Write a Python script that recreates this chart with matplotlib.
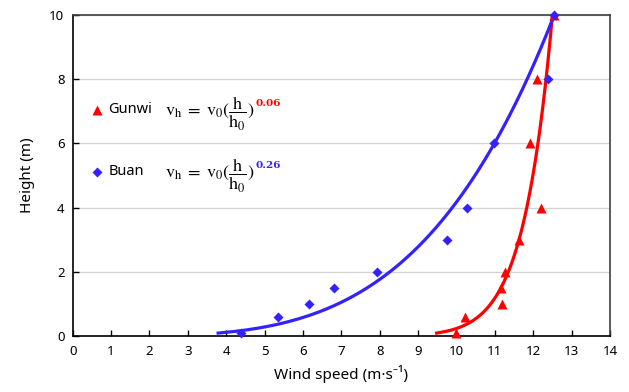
import numpy as np
import matplotlib
matplotlib.use('Agg')
import matplotlib.pyplot as plt

plt.rcParams['font.family'] = ['Noto Sans', 'DejaVu Sans']
plt.rcParams['mathtext.fontset'] = 'stix'

# measured wind profiles
gunwi_speed = [10.0, 10.22, 11.18, 11.15, 11.26, 11.64, 12.2, 11.92, 12.1, 12.54]
gunwi_height = [0.1, 0.6, 1.0, 1.5, 2.0, 3.0, 4.0, 6.0, 8.0, 10.0]
buan_speed = [4.39, 5.34, 6.16, 6.82, 7.92, 9.76, 10.28, 10.98, 12.39, 12.53]
buan_height = [0.1, 0.6, 1.0, 1.5, 2.0, 3.0, 4.0, 6.0, 8.0, 10.0]

# power-law fits v_h = v0 (h/h0)^alpha, reference at h0 = 10 m
gunwi_alpha = 0.06
buan_alpha = 0.26
gunwi_v0 = 12.5
buan_v0 = 12.55
h0 = 10.0

red = '#FF0000'
blue = '#3322FF'

fig = plt.figure(figsize=(6.29, 3.92), dpi=100)
ax = fig.add_axes([0.1156, 0.1421, 0.8542, 0.8204])

h = np.linspace(0.1, 10, 200)
ax.plot(gunwi_v0 * (h / h0) ** gunwi_alpha, h, color=red, lw=2.3, zorder=3)
ax.plot(buan_v0 * (h / h0) ** buan_alpha, h, color=blue, lw=2.3, zorder=3)
ax.plot(gunwi_speed, gunwi_height, '^', color=red, ms=7, mec='none', zorder=4, clip_on=False)
ax.plot(buan_speed, buan_height, 'D', color=blue, ms=5.5, mec='none', zorder=4, clip_on=False)

ax.set_xlim(0, 14)
ax.set_ylim(0, 10)
ax.set_xticks(range(0, 15))
ax.set_yticks(range(0, 11, 2))
ax.tick_params(direction='in', length=4, width=1, labelsize=9.5, pad=6)
ax.yaxis.grid(True, color='#D4D4D4', lw=1)
ax.set_axisbelow(True)
for s in ['left', 'bottom']:
    ax.spines[s].set_linewidth(1.2)
    ax.spines[s].set_color('black')
for s in ['top', 'right']:
    ax.spines[s].set_linewidth(1.2)
    ax.spines[s].set_color('#404040')

ax.set_xlabel('Wind speed (m·s⁻¹)', fontsize=11, labelpad=5)
ax.set_ylabel('Height (m)', fontsize=11, labelpad=10)

# in-plot legend with fitted equations
formula = r'$\mathrm{v_h}\;=\;\mathrm{v_0}(\dfrac{\mathrm{h}}{\mathrm{h_0}})$'
rows = [('Gunwi', '^', 7, red, gunwi_alpha, 0.704),
        ('Buan', 'D', 5.5, blue, buan_alpha, 0.511)]
for name, mk, ms, col, alpha, yf in rows:
    ax.plot([0.045], [yf], mk, color=col, ms=ms, mec='none',
            transform=ax.transAxes, clip_on=False)
    ax.text(0.066, yf, name, transform=ax.transAxes, fontsize=10.5,
            va='center', ha='left')
    t = ax.text(0.172, yf - 0.012, formula, transform=ax.transAxes, fontsize=13,
                va='center', ha='left')
    ax.annotate('%.2f' % alpha, xy=(1.0, 0.66), xycoords=t,
                xytext=(0.5, 0), textcoords='offset points',
                fontsize=7.5, fontweight='bold', color=col,
                family='DejaVu Serif', va='bottom', ha='left')

fig.savefig('out.png', dpi=100)
